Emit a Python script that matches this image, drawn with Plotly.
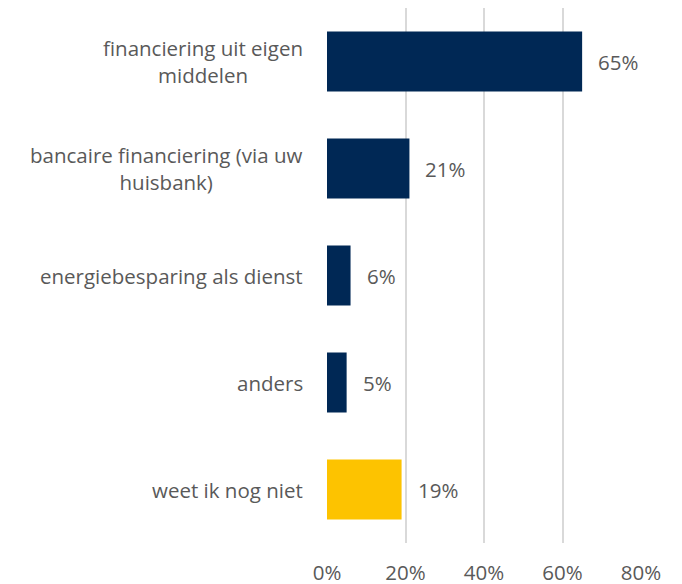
import plotly.graph_objects as go

categories = [
    "financiering uit eigen<br>middelen",
    "bancaire financiering (via uw<br>huisbank)",
    "energiebesparing als dienst",
    "anders",
    "weet ik nog niet",
]
values = [65, 21, 6, 5, 19]
colors = ["#002855", "#002855", "#002855", "#002855", "#FDC300"]
tick_vals = [0, 20, 40, 60, 80]
tick_text = ["0%", "20%", "40%", "60%", "80%"]

FONT = "Open Sans, Calibri, Arial, sans-serif"
GRAY = "#595959"
FS = 20.5

fig = go.Figure(
    go.Bar(
        x=values,
        y=categories,
        orientation="h",
        marker=dict(color=colors, line=dict(width=0)),
        width=0.56,
        hoverinfo="skip",
    )
)

annotations = []
for c, v in zip(categories, values):
    annotations.append(dict(
        x=v, y=c, xref="x", yref="y", text=f"{v}%", showarrow=False,
        xanchor="left", xshift=14, font=dict(family=FONT, size=FS, color=GRAY),
    ))
    annotations.append(dict(
        x=0, y=c, xref="paper", yref="y", text=c, showarrow=False,
        xanchor="right", xshift=-22, align="center",
        font=dict(family=FONT, size=FS, color=GRAY),
    ))

fig.update_layout(
    width=682, height=584,
    margin=dict(l=319, r=49, t=0, b=49),
    paper_bgcolor="white", plot_bgcolor="white",
    showlegend=False,
    annotations=annotations,
    font=dict(family=FONT, size=FS, color=GRAY),
    xaxis=dict(
        range=[0, 80], tickvals=tick_vals, ticktext=tick_text,
        showgrid=True, gridcolor="#D9D9D9", gridwidth=2,
        zeroline=False, showline=False, ticks="",
        ticklabelstandoff=15,
        tickfont=dict(family=FONT, size=FS, color=GRAY),
        fixedrange=True,
    ),
    yaxis=dict(
        categoryorder="array", categoryarray=categories[::-1],
        showticklabels=False, showgrid=False, zeroline=False, ticks="",
        range=[-0.5, 4.5], fixedrange=True,
    ),
)

fig.write_html("out.html")
